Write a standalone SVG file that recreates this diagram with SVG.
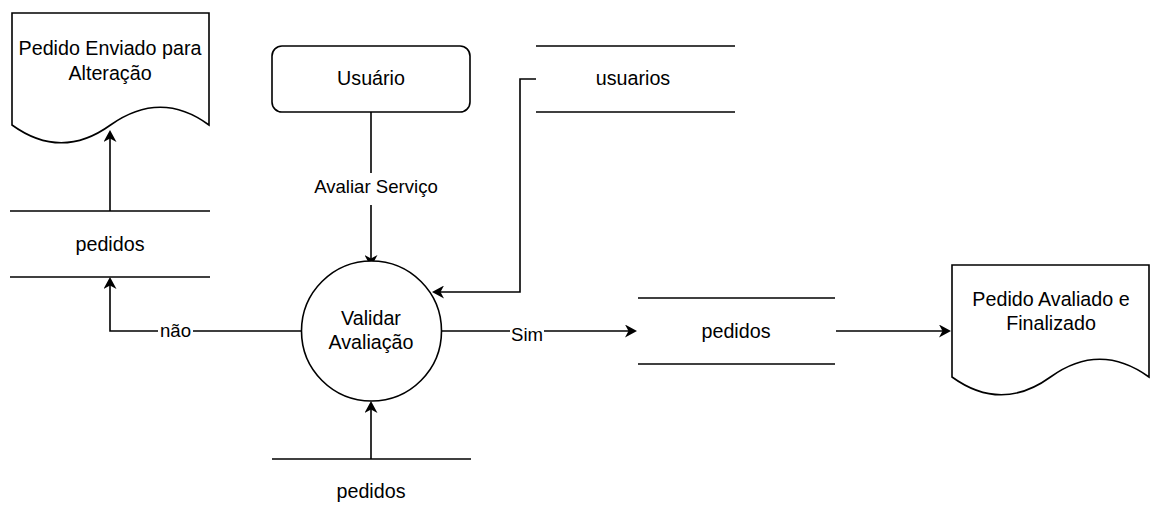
<svg xmlns="http://www.w3.org/2000/svg" width="1150" height="522" viewBox="0 0 1150 522">
<defs>
<marker id="arr" viewBox="0 0 12 13" refX="9" refY="6.5" markerWidth="12" markerHeight="13" markerUnits="userSpaceOnUse" orient="auto">
<path d="M0,0 L12,6.5 L0,13 L3.5,6.5 Z" fill="#000"/>
</marker>
<style>
.shape{fill:#fff;stroke:#000;stroke-width:1.6}
.line{fill:none;stroke:#000;stroke-width:1.6}
.edge{fill:none;stroke:#000;stroke-width:1.6;marker-end:url(#arr)}
.t{font-family:"Liberation Sans",Arial,Helvetica,sans-serif;font-size:19.7px;fill:#000;text-anchor:middle}
.lbl{font-family:"Liberation Sans",Arial,Helvetica,sans-serif;font-size:18.6px;fill:#000;text-anchor:middle}
.bg{fill:#fff;stroke:none}
</style>
</defs>
<rect width="1150" height="522" fill="#fff"/>

<g id="connectors">
<path class="edge" d="M110,211 V133"/>
<path class="edge" d="M302,331 H110 V280"/>
<path class="edge" d="M371,112 V264"/>
<path class="edge" d="M536,79 H520 V292 H435"/>
<path class="edge" d="M371,459 V404"/>
<path class="edge" d="M441,331 H634"/>
<path class="edge" d="M836,331 H948"/>
<rect class="bg" x="313" y="173" width="126" height="32"/>
<text class="lbl" x="376" y="193">Avaliar Serviço</text>
<rect class="bg" x="158" y="322" width="35" height="18"/>
<text class="lbl" x="175.5" y="337">não</text>
<rect class="bg" x="510" y="322" width="34" height="21"/>
<text class="lbl" x="527" y="341">Sim</text>
</g>

<g id="doc-enviado">
<path class="shape" d="M12,13 H209 V125 Q160.75,89.5 110.5,125 Q61.25,160.6 12,125 Z"/>
<text class="t" x="110" y="55">Pedido Enviado para</text>
<text class="t" x="110" y="80">Alteração</text>
</g>

<g id="store-pedidos-left">
<line class="line" x1="10" y1="211" x2="210" y2="211"/>
<line class="line" x1="10" y1="277" x2="210" y2="277"/>
<text class="t" x="110" y="251">pedidos</text>
</g>

<g id="usuario">
<rect class="shape" x="272" y="46" width="198" height="66" rx="10" ry="10"/>
<text class="t" x="371" y="85">Usuário</text>
</g>

<g id="store-usuarios">
<line class="line" x1="536" y1="46" x2="735" y2="46"/>
<line class="line" x1="536" y1="112" x2="735" y2="112"/>
<text class="t" x="633" y="85">usuarios</text>
</g>

<g id="validar">
<circle class="shape" cx="371.5" cy="331" r="70"/>
<text class="t" x="371" y="325">Validar</text>
<text class="t" x="371" y="349">Avaliação</text>
</g>

<g id="store-pedidos-bottom">
<line class="line" x1="272" y1="459" x2="471" y2="459"/>
<text class="t" x="371" y="498">pedidos</text>
</g>

<g id="store-pedidos-right">
<line class="line" x1="638" y1="298" x2="835" y2="298"/>
<line class="line" x1="638" y1="364" x2="835" y2="364"/>
<text class="t" x="736" y="338">pedidos</text>
</g>

<g id="doc-finalizado">
<path class="shape" d="M952,265 H1149 V377 Q1099.75,341.5 1050.5,377 Q1001.25,412.6 952,377 Z"/>
<text class="t" x="1051" y="306">Pedido Avaliado e</text>
<text class="t" x="1051" y="330">Finalizado</text>
</g>
</svg>
